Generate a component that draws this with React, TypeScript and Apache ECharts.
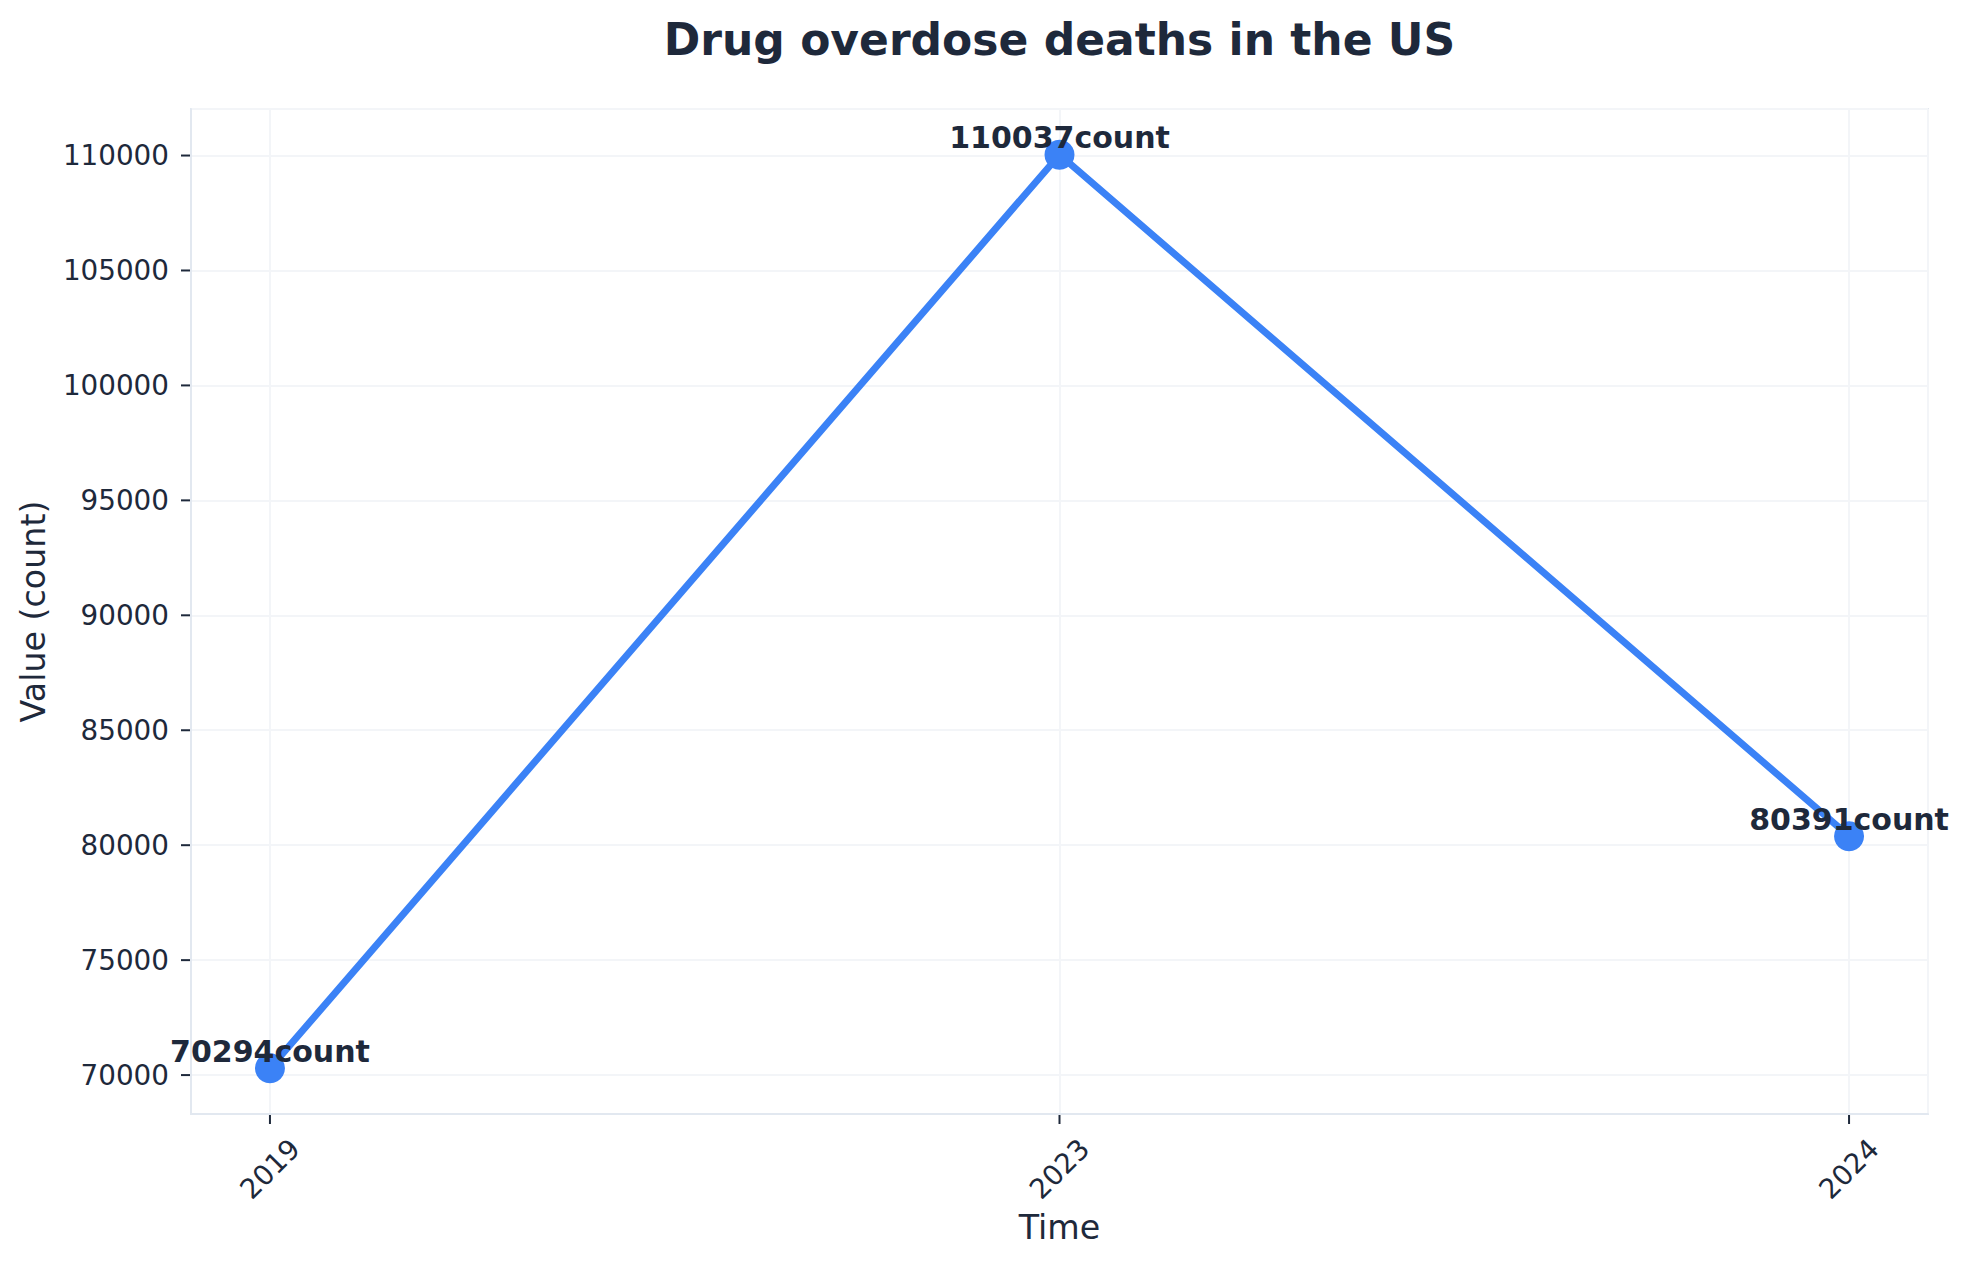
import React, { useEffect, useRef } from 'react';
import * as echarts from 'echarts';

const categories = ['2019', '2023', '2024'];
const values = [70294, 110037, 80391];
const yTickValues = [70000, 75000, 80000, 85000, 90000, 95000, 100000, 105000, 110000];
const xTickValues = [0, 1, 2];
const unit = 'count';
const titleText = 'Drug overdose deaths in the US';
const xName = 'Time';
const yName = 'Value (count)';

const FONT = 'DejaVu Sans';
const TEXT = '#1e293b';
const BLUE = '#3b82f6';
const SPINE = '#e2e8f0';
const GRID = '#f3f5f8';
const TICK_LEN = 9;

export default function App() {
  const ref = useRef<HTMLDivElement>(null);
  useEffect(() => {
    document.body.style.margin = '0';
    document.body.style.overflow = 'hidden';
    const chart = echarts.init(ref.current as HTMLDivElement, null, { renderer: 'svg' });
    const lo = Math.min(...values);
    const hi = Math.max(...values);
    const pad = (hi - lo) * 0.05;
    const yMin = lo - pad;
    const yMax = hi + pad;
    const xpad = (categories.length - 1) * 0.05;
    const xMin = -xpad;
    const xMax = categories.length - 1 + xpad;
    const seriesData = categories.map((c, i) => [i, values[i]]);
    const option: any = {
      animation: false,
      backgroundColor: '#ffffff',
      title: {
        text: titleText,
        left: 1059.5,
        textAlign: 'center',
        top: 17,
        padding: 0,
        textStyle: { fontFamily: FONT, fontSize: 44, fontWeight: 'bold', color: TEXT, lineHeight: 44 },
      },
      grid: {
        left: 191,
        right: 41,
        top: 109,
        bottom: 153,
        show: true,
        borderColor: SPINE,
        borderWidth: 2,
        backgroundColor: 'transparent',
      },
      xAxis: {
        type: 'value',
        position: 'bottom',
        min: xMin,
        max: xMax,
        splitNumber: 2,
        name: xName,
        nameLocation: 'middle',
        nameGap: 97,
        nameMoveOverlap: false,
        nameTextStyle: { fontFamily: FONT, fontSize: 33.3, color: TEXT, lineHeight: 33 },
        axisLine: { show: true, onZero: false, lineStyle: { color: SPINE, width: 2 } },
        axisTick: { show: false },
        axisLabel: {
          customValues: xTickValues,
          formatter: (v: number) => categories[Math.round(v)] ?? '',
          rotate: 45,
          align: 'center',
          verticalAlign: 'middle',
          margin: 55,
          fontFamily: FONT,
          fontSize: 27.8,
          color: TEXT,
        },
        splitLine: { show: true, lineStyle: { color: GRID, width: 2 } },
      },
      yAxis: {
        type: 'value',
        position: 'left',
        min: yMin,
        max: yMax,
        splitNumber: 9,
        name: yName,
        nameLocation: 'middle',
        nameGap: 141,
        nameRotate: 90,
        nameMoveOverlap: false,
        nameTextStyle: { fontFamily: FONT, fontSize: 33.3, color: TEXT, lineHeight: 33 },
        axisLine: { show: true, onZero: false, lineStyle: { color: SPINE, width: 2 } },
        axisTick: { show: false },
        axisLabel: {
          customValues: yTickValues,
          formatter: (v: number) => String(v),
          margin: 22,
          fontFamily: FONT,
          fontSize: 27.8,
          color: TEXT,
        },
        splitLine: { show: true, lineStyle: { color: GRID, width: 2 } },
      },
      series: [
        {
          type: 'custom',
          name: 'yTicks',
          silent: true,
          clip: false,
          z: 1,
          data: yTickValues.map((v) => [xMin, v]),
          encode: { x: 0, y: 1 },
          renderItem: (params: any, api: any) => {
            const p = api.coord([api.value(0), api.value(1)]);
            return {
              type: 'line',
              shape: { x1: p[0] - TICK_LEN - 1, y1: p[1], x2: p[0] - 1, y2: p[1] },
              style: { stroke: TEXT, lineWidth: 2 },
            };
          },
        },
        {
          type: 'custom',
          name: 'xTicks',
          silent: true,
          clip: false,
          z: 1,
          data: xTickValues.map((v) => [v, yMin]),
          encode: { x: 0, y: 1 },
          renderItem: (params: any, api: any) => {
            const p = api.coord([api.value(0), api.value(1)]);
            return {
              type: 'line',
              shape: { x1: p[0], y1: p[1] + 1, x2: p[0], y2: p[1] + TICK_LEN + 1 },
              style: { stroke: TEXT, lineWidth: 2 },
            };
          },
        },
        {
          type: 'line',
          name: 'Drug overdose deaths',
          data: seriesData,
          symbol: 'circle',
          symbolSize: 30,
          z: 3,
          lineStyle: { width: 7, color: BLUE },
          itemStyle: { color: BLUE },
          label: {
            show: true,
            position: 'inside',
            offset: [0, -17],
            formatter: (p: any) => `${p.value[1]}${unit}`,
            fontFamily: FONT,
            fontSize: 30,
            fontWeight: 'bold',
            color: TEXT,
            textBorderWidth: 0,
          },
          emphasis: { disabled: true },
        },
      ],
    };
    chart.setOption(option);
    return () => chart.dispose();
  }, []);
  return <div ref={ref} style={{ width: 1969, height: 1267 }} />;
}
